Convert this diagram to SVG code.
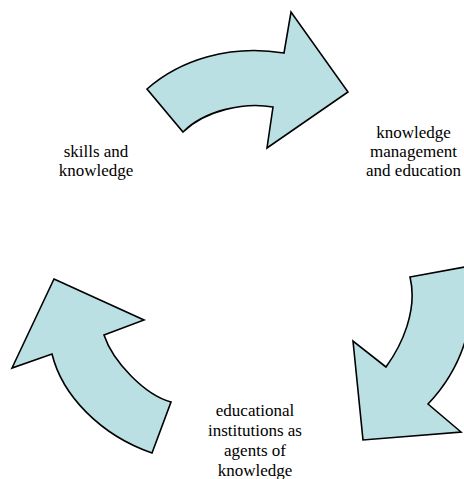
<svg xmlns="http://www.w3.org/2000/svg" width="464" height="479" viewBox="0 0 464 479">
  <style>
    .arrow { fill: #BAE0E4; stroke: #000000; stroke-width: 1.6; stroke-linejoin: miter; }
    .label { font-size: 17px; fill: #000000; text-anchor: middle; }
  </style>
  <rect width="464" height="479" fill="#FFFFFF"/>

  <!-- curved cycle arrows -->
  <g id="connectors">
    <path id="arrow-top" class="arrow" d="M147,89 C180,60 230,44 284,53 L291,12 L348,92 L267,148 L273,107 C245,102 205,110 183,132 Z"/>
    <path id="arrow-right" class="arrow" d="M410,277 L470,266 C478,315 465,365 428,404 L461,432 L363,440 L353,341 L386,367 C402,345 418,310 410,277 Z"/>
    <path id="arrow-left" class="arrow" d="M54,279 L144,320 L104,335 C113,362 145,395 171,402 L152,453 C100,435 62,395 52,354 L12,368 Z"/>
  </g>

  <g id="node-skills" font-family="'Liberation Serif', 'Times New Roman', 'DejaVu Serif', serif">
    <text class="label" x="96" y="157">skills and</text>
    <text class="label" x="96" y="176">knowledge</text>
  </g>

  <g id="node-km" font-family="'Liberation Serif', 'Times New Roman', 'DejaVu Serif', serif">
    <text class="label" x="413.5" y="138">knowledge</text>
    <text class="label" x="413.5" y="157">management</text>
    <text class="label" x="413.5" y="176">and education</text>
  </g>

  <g id="node-institutions" font-family="'Liberation Serif', 'Times New Roman', 'DejaVu Serif', serif">
    <text class="label" x="255" y="416">educational</text>
    <text class="label" x="255" y="436">institutions as</text>
    <text class="label" x="255" y="456">agents of</text>
    <text class="label" x="255" y="476">knowledge</text>
  </g>
</svg>
